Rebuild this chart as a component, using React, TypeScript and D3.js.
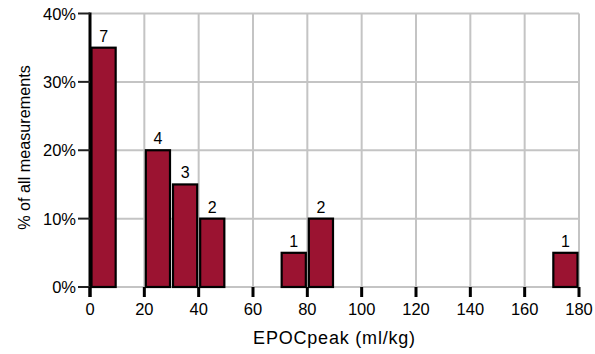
import React, { useEffect, useRef } from "react";
import * as d3 from "d3";

// histogram bins of EPOCpeak, 10 ml/kg wide
const binStarts = [0, 20, 30, 40, 70, 80, 170];
const binWidth = 10;
const percents = [35, 20, 15, 10, 5, 10, 5];
const counts = [7, 4, 3, 2, 1, 2, 1];
const xTicks = [0, 20, 40, 60, 80, 100, 120, 140, 160, 180];
const yTicks = [0, 10, 20, 30, 40];

const App = () => {
  const svgRef = useRef<SVGSVGElement>(null);

  useEffect(() => {
    const w = 595;
    const h = 354;
    const left = 90;
    const right = 579;
    const top = 13.5;
    const bottom = 287;
    const font = "Liberation Sans, Arial, sans-serif";

    const svg = d3.select(svgRef.current).attr("width", w).attr("height", h);
    svg.selectAll("*").remove();

    const x = d3.scaleLinear().domain([0, 180]).range([left, right]);
    const y = d3.scaleLinear().domain([0, 40]).range([bottom, top]);

    // grid
    const grid = svg.append("g");
    grid
      .selectAll(".gy")
      .data(yTicks)
      .join("line")
      .attr("x1", left)
      .attr("x2", right)
      .attr("y1", (d) => y(d))
      .attr("y2", (d) => y(d))
      .attr("stroke", "#c4c4c4")
      .attr("stroke-width", 2);
    grid
      .selectAll(".gx")
      .data(xTicks.filter((d) => d > 0))
      .join("line")
      .attr("x1", (d) => x(d))
      .attr("x2", (d) => x(d))
      .attr("y1", top)
      .attr("y2", bottom)
      .attr("stroke", "#c4c4c4")
      .attr("stroke-width", 2);

    // bars
    svg
      .selectAll(".bar")
      .data(binStarts)
      .join("rect")
      .attr("class", "bar")
      .attr("x", (d) => x(d) + 1.5)
      .attr("y", (d, i) => y(percents[i]))
      .attr("width", (d) => x(d + binWidth) - x(d) - 3)
      .attr("height", (d, i) => bottom - y(percents[i]))
      .attr("fill", "#9b1331")
      .attr("stroke", "#000")
      .attr("stroke-width", 2.2);

    svg
      .selectAll(".cnt")
      .data(binStarts)
      .join("text")
      .attr("x", (d) => x(d + binWidth / 2))
      .attr("y", (d, i) => y(percents[i]) - 6)
      .attr("text-anchor", "middle")
      .attr("font-family", font)
      .attr("font-size", 16)
      .attr("fill", "#000")
      .text((d, i) => counts[i]);

    // y axis
    svg
      .append("line")
      .attr("x1", left)
      .attr("x2", left)
      .attr("y1", top - 1)
      .attr("y2", bottom + 10)
      .attr("stroke", "#000")
      .attr("stroke-width", 3);
    svg
      .selectAll(".yt")
      .data(yTicks)
      .join("line")
      .attr("x1", left - 12)
      .attr("x2", left)
      .attr("y1", (d) => y(d))
      .attr("y2", (d) => y(d))
      .attr("stroke", "#222")
      .attr("stroke-width", 2);
    svg
      .selectAll(".yl")
      .data(yTicks)
      .join("text")
      .attr("x", left - 14)
      .attr("y", (d) => y(d) + 6)
      .attr("text-anchor", "end")
      .attr("font-family", font)
      .attr("font-size", 16.5)
      .attr("fill", "#000")
      .text((d) => d + "%");

    // x axis ticks
    svg
      .selectAll(".xt")
      .data(xTicks)
      .join("line")
      .attr("x1", (d) => x(d))
      .attr("x2", (d) => x(d))
      .attr("y1", bottom)
      .attr("y2", bottom + 10)
      .attr("stroke", "#000")
      .attr("stroke-width", 3);
    svg
      .selectAll(".xl")
      .data(xTicks)
      .join("text")
      .attr("x", (d) => x(d))
      .attr("y", 315)
      .attr("text-anchor", "middle")
      .attr("font-family", font)
      .attr("font-size", 16.5)
      .attr("fill", "#000")
      .text((d) => d);

    // axis titles
    svg
      .append("text")
      .attr("x", (left + right) / 2)
      .attr("y", 344)
      .attr("text-anchor", "middle")
      .attr("font-family", font)
      .attr("font-size", 18)
      .attr("letter-spacing", 0.8)
      .attr("fill", "#000")
      .text("EPOCpeak (ml/kg)");
    svg
      .append("text")
      .attr("transform", `translate(30,${(65 + 230) / 2}) rotate(-90)`)
      .attr("text-anchor", "middle")
      .attr("font-family", font)
      .attr("font-size", 16.2)
      .attr("fill", "#000")
      .text("% of all measurements");
  }, []);

  return (
    <svg
      ref={svgRef}
      style={{ position: "absolute", left: 0, top: 0, background: "#fff" }}
    ></svg>
  );
};

export default App;
